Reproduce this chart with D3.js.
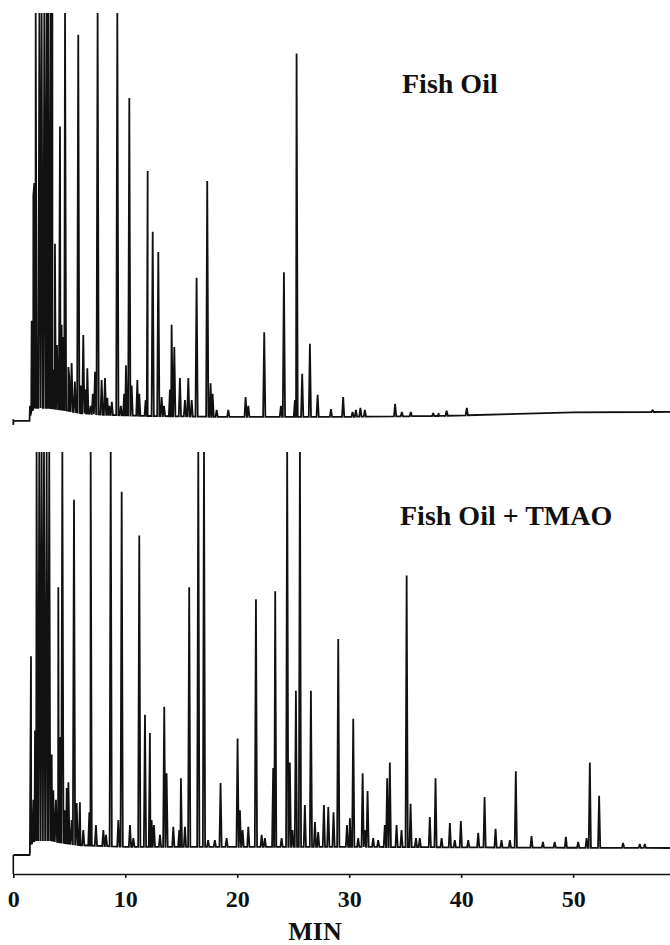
<!DOCTYPE html>
<html>
<head>
<meta charset="utf-8">
<script src="https://cdn.jsdelivr.net/npm/d3@7"></script>
<style>
  html, body { margin: 0; padding: 0; background: #fff; }
  svg { display: block; }
  .lbl { font-family: "Liberation Serif", "Times New Roman", serif; font-weight: bold; fill: #111; }
</style>
</head>
<body>
<svg id="chart" width="670" height="945"></svg>
<script>
// ---------------- data ----------------
const OFF = 150; // off-scale (clipped) peak

// Fish Oil : retention time (min) and peak height (% of full scale)
const topTimes = [1.49,1.64,1.79,1.88,2.0,2.33,2.53,2.77,2.98,3.13,3.34,3.49,3.6,3.72,3.9,4.17,4.32,4.45,4.62,4.92,
  5.0,5.21,5.5,5.8,6.02,6.25,6.45,6.61,6.91,7.1,7.3,7.53,7.89,8.19,8.4,8.57,8.8,9.29,9.6,9.9,
  10.06,10.36,10.57,11.08,11.25,11.82,12.0,12.45,12.95,13.25,13.46,13.99,14.14,14.38,14.88,15.33,15.63,15.93,16.37,17.32,
  17.62,17.8,18.16,19.2,20.75,20.99,22.41,23.9,24.17,25.15,25.3,25.8,26.49,27.18,28.37,29.46,30.3,30.6,31.0,31.4,
  34.1,34.7,35.5,37.5,38.0,38.7,40.5,57.1];
const topValues = [3,24,55,58,OFF,OFF,OFF,OFF,OFF,OFF,OFF,OFF,12,43,18,72,23,20,OFF,12.6,
  10,13.6,9,94.6,8,20.5,7,12.3,3,6,11.4,OFF,9.4,9.9,5,3,4,OFF,3,6,
  13,79,8,9.4,6,4.4,61,46,41,5.2,3,7,23,17.5,9.9,4.4,9.9,4.4,34.6,58.5,
  8.6,6,2,2,5.2,3,21.2,3,36,4.4,90,10.9,18.3,5.7,2.2,5.2,1.5,2,2.5,2,
  3.5,1.5,1.5,1.2,1.2,1.8,2.5,1];
// Fish Oil baseline drift (time, level)
const topBaseTimes  = [0, 1.45, 1.6, 1.9, 3.2, 4.5, 6, 8, 12, 18, 30, 38, 45, 50, 58.65];
const topBaseLevels = [-0.7, -0.7, 1.5, 2.5, 2.5, 2, 1.2, 0.8, 0.5, 0.3, 0.3, 0.5, 1.0, 1.4, 1.5];

// Fish Oil + TMAO
const botTimes = [1.58,1.79,1.94,2.08,2.32,2.53,2.74,2.98,3.21,3.43,3.57,3.81,4.02,4.17,4.38,4.62,4.77,4.92,5.21,5.42,
  5.66,5.95,6.25,6.79,6.91,7.38,8.04,8.28,8.7,9.38,9.68,10.42,10.72,11.25,11.76,12.2,12.35,12.56,13.1,13.48,
  13.69,14.29,14.82,14.97,15.33,15.71,16.52,17.03,17.4,18.0,18.51,19.05,20.03,20.24,20.48,20.99,21.67,22.18,22.47,23.21,
  23.39,23.96,24.46,24.7,24.94,25.24,25.6,26.04,26.58,26.94,27.23,27.74,28.13,28.6,29.02,29.8,30.06,30.36,30.8,31.2,
  31.4,31.64,32.14,32.59,33.18,33.39,33.63,34.23,34.67,35.13,35.48,35.96,36.3,37.2,37.71,38.25,38.99,39.43,39.97,40.63,
  41.52,42.09,43.07,43.6,44.35,44.88,46.28,47.3,48.35,49.35,50.45,51.2,51.49,52.32,54.46,55.95,56.4];
const botValues = [48.7,12.6,30,OFF,OFF,OFF,OFF,OFF,OFF,24,15,12.6,66,28.4,OFF,10,15.6,17,7.5,88,
  11.8,12,5,9.5,OFF,6.3,5,3.8,OFF,7.5,90,6.3,3,79,34,29.4,7.5,6.3,3.8,36,
  19.3,5.8,5,18,5.8,66,OFF,OFF,2.5,2.5,16.8,3,28,10,5,5.8,63,3.8,3,20.6,
  65,3,OFF,22,5,40,OFF,11.3,40,7,4.5,11.3,10.8,9.5,53,6.3,8,33,3,19.3,
  5,14.8,3,2.5,6.3,18,22,6.3,5,69,11.6,3,3,8.3,18,3,6.8,2.5,7.3,2.5,
  4.3,13.3,5.3,2.5,2.5,19.8,3.5,2,2,3.3,2,3,22,13.6,1.8,1.5,1.5];
const botBaseTimes  = [0, 1.45, 1.6, 2, 3.3, 4, 6, 10, 30, 45, 58.65];
const botBaseLevels = [-1.25, -1.25, 1.5, 2.5, 2.5, 2, 1.2, 0.8, 0.8, 0.6, 0.5];

const tickValues = [0, 10, 20, 30, 40, 50];
const panelLabels = ["Fish Oil", "Fish Oil + TMAO"];
const axisTitle = "MIN";

// ---------------- drawing ----------------
const svg = d3.select("#chart");
const x = d3.scaleLinear().domain([0, 58.65]).range([13.3, 670]);
const yTop = d3.scaleLinear().domain([-5, 100]).range([438.25, 13]).clamp(true);
const yBot = d3.scaleLinear().domain([-5, 100]).range([869.9, 452]).clamp(true);
const HW = 0.1; // peak half width (min)

function buildTrace(times, values, baseT, baseL) {
  const base = d3.scaleLinear().domain(baseT).range(baseL);
  const pts = [[0, base(0)]];
  const idx = d3.range(times.length).sort((a, b) => times[a] - times[b]);
  idx.forEach(i => {
    const t = times[i], v = values[i];
    pts.push([t - HW, base(t - HW)]);
    pts.push([t, Math.max(v, base(t) + 0.5)]);
    pts.push([t + HW, base(t + HW)]);
  });
  baseT.forEach((t, i) => pts.push([t, baseL[i]]));
  pts.sort((a, b) => a[0] - b[0]);
  return pts;
}

function drawTrace(times, values, baseT, baseL, y) {
  const pts = buildTrace(times, values, baseT, baseL);
  const line = d3.line().x(d => x(d[0])).y(d => y(d[1]));
  svg.append("path")
    .attr("d", line(pts))
    .attr("fill", "none")
    .attr("stroke", "#111")
    .attr("stroke-width", 1.8)
    .attr("stroke-linejoin", "miter")
    .attr("stroke-miterlimit", 2);
}

drawTrace(topTimes, topValues, topBaseTimes, topBaseLevels, yTop);
drawTrace(botTimes, botValues, botBaseTimes, botBaseLevels, yBot);

// start marks
svg.append("line").attr("x1", x(0)).attr("x2", x(0))
  .attr("y1", yTop(-0.3)).attr("y2", yTop(-1.7))
  .attr("stroke", "#111").attr("stroke-width", 1.8);
svg.append("line").attr("x1", x(0)).attr("x2", x(0))
  .attr("y1", yBot(-1.25)).attr("y2", 874)
  .attr("stroke", "#111").attr("stroke-width", 1.6);

// x axis
const axis = d3.axisBottom(x).tickValues(tickValues).tickSize(4).tickSizeOuter(0).tickPadding(12)
  .tickFormat(d3.format("d"));
const gx = svg.append("g").attr("transform", "translate(0,874)").call(axis);
gx.select(".domain").attr("stroke", "#111").attr("stroke-width", 1.6);
gx.selectAll(".tick line").attr("stroke", "#111").attr("stroke-width", 1.6);
gx.selectAll(".tick text")
  .attr("class", "lbl")
  .style("font-family", "'Liberation Serif', 'Times New Roman', serif")
  .style("font-weight", "bold")
  .style("font-size", "24px")
  .attr("fill", "#111");

// labels
svg.append("text").attr("class", "lbl").attr("x", 402).attr("y", 93)
  .style("font-size", "28px").text(panelLabels[0]);
svg.append("text").attr("class", "lbl").attr("x", 400).attr("y", 525)
  .style("font-size", "28px").text(panelLabels[1]);
svg.append("text").attr("class", "lbl").attr("x", 315).attr("y", 940)
  .attr("text-anchor", "middle").style("font-size", "26px").text(axisTitle);
</script>
</body>
</html>
